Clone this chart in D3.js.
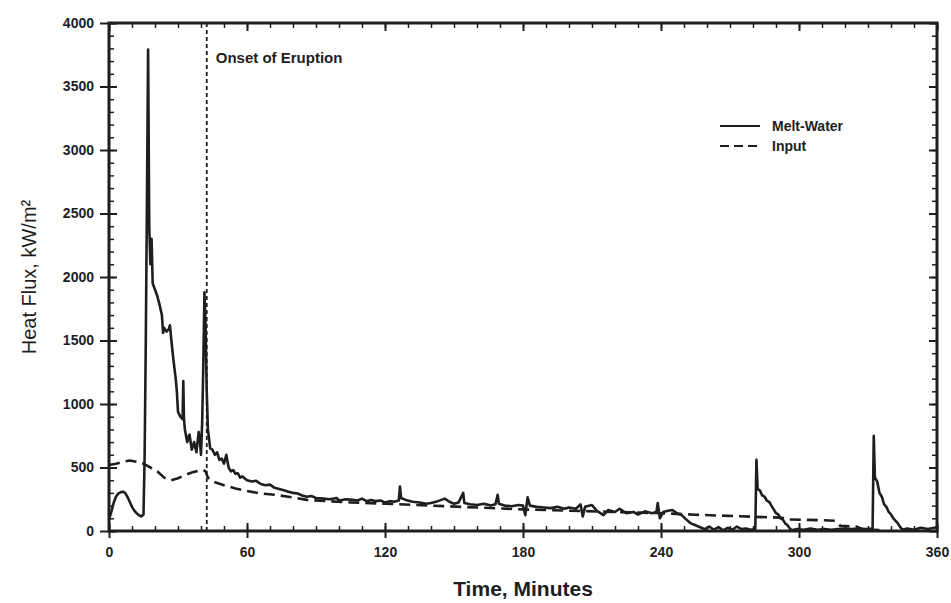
<!DOCTYPE html>
<html><head><meta charset="utf-8">
<script src="https://cdn.jsdelivr.net/npm/d3@7/dist/d3.min.js"></script>
<style>
html,body{margin:0;padding:0;background:#fff;}
svg{display:block;}
text{font-family:"Liberation Sans",Arial,Helvetica,sans-serif;fill:#1e1e1e;}
</style></head>
<body>
<svg id="chart" width="951" height="603"></svg>
<script>
// ---- data ----
const xTicks = [0, 60, 120, 180, 240, 300, 360];
const yTicks = [0, 500, 1000, 1500, 2000, 2500, 3000, 3500, 4000];
const seriesNames = ["Melt-Water", "Input"];
const onsetTime = 42.5;
const onsetLabel = "Onset of Eruption";
const xTitle = "Time, Minutes";
const yTitle = "Heat Flux, kW/m²";

const meltTime = [0,1,2,3,4,5,6,7,8,9,10,11,12,13,14,15,15.5,16,16.5,17,17.5,18,18.5,19,20,21,22,23,23.5,24,25,26,26.5,27,28,29,29.5,30,31,32,32.3,32.6,33,34,35,36,37,38,39,39.5,40,40.5,41,41.5,42,42.5,43,44,45,46,47,48,49,50,51,52,53,54,55,56,57,58,60,62,64,66,68,70,72,74,76,78,80,82,84,86,88,90,93,96,99,100,103,106,108,110,112,114,116,118,120,122,124,126,126.5,127,129,132,135,138,140,143,146,148,150,152,154,154.5,157,160,163,166,168,169,169.5,172,175,178,180,181,182,183,186,189,192,195,198,200,203,205,206,207,210,212,215,217,220,222,225,228,230,233,236,238,238.6,239.5,241,243,245,247,249,251,253,255,257,259,261,263,265,267,269,271,273,275,277,279,281,281.5,282,283,284,285,286,287,288,289,290,291,292,293,294,295,296,297,299,302,305,308,311,314,317,320,323,326,329,332,332.5,333,334,335,336,337,338,339,340,341,342,343,344,345,347,350,353,356,360];
const meltValue = [90,150,220,270,295,305,310,300,270,230,190,160,140,125,115,130,600,1500,2600,3790,2400,2100,2300,1950,1900,1850,1780,1700,1560,1600,1570,1590,1620,1520,1350,1200,1100,940,900,880,1180,880,800,700,760,640,700,620,780,720,600,850,1300,1880,1600,1100,800,650,640,600,620,560,570,530,600,500,470,480,450,455,420,430,400,390,395,370,360,365,340,330,320,310,300,295,280,270,275,260,255,250,260,240,250,245,240,255,235,245,235,240,225,235,230,240,350,260,245,230,225,215,220,235,255,230,215,225,300,220,210,205,215,200,210,285,215,200,195,205,200,125,265,200,190,185,180,190,175,185,175,210,115,190,205,160,125,165,150,175,140,150,130,155,140,150,220,100,150,160,165,140,125,90,60,45,30,15,35,10,30,5,25,10,35,15,20,10,15,560,330,320,280,270,240,230,200,170,140,130,100,90,60,45,20,5,15,10,20,10,15,10,15,20,15,20,15,20,750,420,390,300,270,210,190,150,130,100,80,60,30,10,20,10,25,15,30];

const inputTime = [0,3,6,9,12,15,18,21,24,27,30,33,36,39,41,42,43,45,50,55,60,66,72,78,86,95,105,120,140,160,180,200,220,240,255,265,280,292,296,310,316,318,325,328,335];
const inputValue = [520,530,545,555,545,530,500,470,420,400,415,440,460,475,480,470,420,390,360,335,315,295,285,270,245,235,225,215,200,185,170,160,150,140,128,122,112,105,90,85,80,40,35,10,8];

// ---- layout ----
const W = 951, H = 603;
const plot = {left: 109, right: 937, top: 23, bottom: 531};
const ink = "#1e1e1e";

const svg = d3.select("#chart");
svg.append("rect").attr("width", W).attr("height", H).attr("fill", "#fff");

const x = d3.scaleLinear().domain([0, 360]).range([plot.left, plot.right]);
const y = d3.scaleLinear().domain([0, 4000]).range([plot.bottom, plot.top]);

const xMinor = d3.range(0, 361, 10);
const yMinor = d3.range(0, 4001, 100);

function styleAxis(g, width) {
  g.select(".domain").remove();
  g.selectAll("line").attr("stroke", ink).attr("stroke-width", width);
  g.selectAll("text").attr("fill", ink);
}

// minor ticks (inward) on all four sides
const gBottomMinor = svg.append("g").attr("transform", `translate(0,${plot.bottom})`)
  .call(d3.axisTop(x).tickValues(xMinor).tickSize(5).tickFormat(""));
styleAxis(gBottomMinor, 1.5);
const gTopMinor = svg.append("g").attr("transform", `translate(0,${plot.top})`)
  .call(d3.axisBottom(x).tickValues(xMinor).tickSize(5).tickFormat(""));
styleAxis(gTopMinor, 1.5);
const gLeftMinor = svg.append("g").attr("transform", `translate(${plot.left},0)`)
  .call(d3.axisRight(y).tickValues(yMinor).tickSize(5).tickFormat(""));
styleAxis(gLeftMinor, 1.5);
const gRightMinor = svg.append("g").attr("transform", `translate(${plot.right},0)`)
  .call(d3.axisLeft(y).tickValues(yMinor).tickSize(5).tickFormat(""));
styleAxis(gRightMinor, 1.5);

// major ticks inward
const gBottomIn = svg.append("g").attr("transform", `translate(0,${plot.bottom})`)
  .call(d3.axisTop(x).tickValues(xTicks).tickSize(8).tickFormat(""));
styleAxis(gBottomIn, 2);
const gTopIn = svg.append("g").attr("transform", `translate(0,${plot.top})`)
  .call(d3.axisBottom(x).tickValues(xTicks).tickSize(8).tickFormat(""));
styleAxis(gTopIn, 2);
const gLeftIn = svg.append("g").attr("transform", `translate(${plot.left},0)`)
  .call(d3.axisRight(y).tickValues(yTicks).tickSize(8).tickFormat(""));
styleAxis(gLeftIn, 2);
const gRightIn = svg.append("g").attr("transform", `translate(${plot.right},0)`)
  .call(d3.axisLeft(y).tickValues(yTicks).tickSize(8).tickFormat(""));
styleAxis(gRightIn, 2);

// major ticks outward with labels
const gx = svg.append("g").attr("transform", `translate(0,${plot.bottom})`)
  .call(d3.axisBottom(x).tickValues(xTicks).tickSize(7).tickPadding(9).tickFormat(d3.format("d")));
styleAxis(gx, 2);
gx.selectAll("text").attr("font-size", 14).attr("font-weight", "bold").attr("font-family", "Liberation Sans, Arial, sans-serif");

const gy = svg.append("g").attr("transform", `translate(${plot.left},0)`)
  .call(d3.axisLeft(y).tickValues(yTicks).tickSize(9).tickPadding(6).tickFormat(d3.format("d")));
styleAxis(gy, 2);
gy.selectAll("text").attr("font-size", 14).attr("font-weight", "bold").attr("font-family", "Liberation Sans, Arial, sans-serif");

// frame
svg.append("rect")
  .attr("x", plot.left).attr("y", plot.top)
  .attr("width", plot.right - plot.left).attr("height", plot.bottom - plot.top)
  .attr("fill", "none").attr("stroke", ink).attr("stroke-width", 3);

// onset line
svg.append("line")
  .attr("x1", x(onsetTime)).attr("x2", x(onsetTime))
  .attr("y1", y(4000)).attr("y2", y(0))
  .attr("stroke", ink).attr("stroke-width", 1.8).attr("stroke-dasharray", "4,3");
svg.append("text")
  .attr("x", x(onsetTime) + 9).attr("y", 63)
  .attr("font-size", 15).attr("font-weight", "bold")
  .text(onsetLabel);

// series
const meltData = meltTime.map((t, i) => ({t, v: meltValue[i]}));
const inputData = inputTime.map((t, i) => ({t, v: inputValue[i]}));
const line = d3.line().x(d => x(d.t)).y(d => y(d.v));

svg.append("path").datum(inputData)
  .attr("d", line).attr("fill", "none")
  .attr("stroke", ink).attr("stroke-width", 2.6).attr("stroke-dasharray", "11,6");
svg.append("path").datum(meltData)
  .attr("d", line).attr("fill", "none")
  .attr("stroke", ink).attr("stroke-width", 2.6).attr("stroke-linejoin", "round");

// legend
const legend = svg.append("g");
const legendRows = [{name: seriesNames[0], dash: null, yy: 126}, {name: seriesNames[1], dash: "9,5", yy: 146}];
legendRows.forEach(r => {
  legend.append("line").attr("x1", 720).attr("x2", 760).attr("y1", r.yy).attr("y2", r.yy)
    .attr("stroke", ink).attr("stroke-width", 2.2).attr("stroke-dasharray", r.dash);
  legend.append("text").attr("x", 772).attr("y", r.yy + 5)
    .attr("font-size", 14).attr("font-weight", "bold").text(r.name);
});

// axis titles
svg.append("text")
  .attr("x", (plot.left + plot.right) / 2).attr("y", 596)
  .attr("text-anchor", "middle").attr("font-size", 21).attr("font-weight", "bold")
  .text(xTitle);
svg.append("text")
  .attr("transform", `translate(36,${(plot.top + plot.bottom) / 2}) rotate(-90)`)
  .attr("text-anchor", "middle").attr("font-size", 20)
  .text(yTitle);
</script>
</body></html>
